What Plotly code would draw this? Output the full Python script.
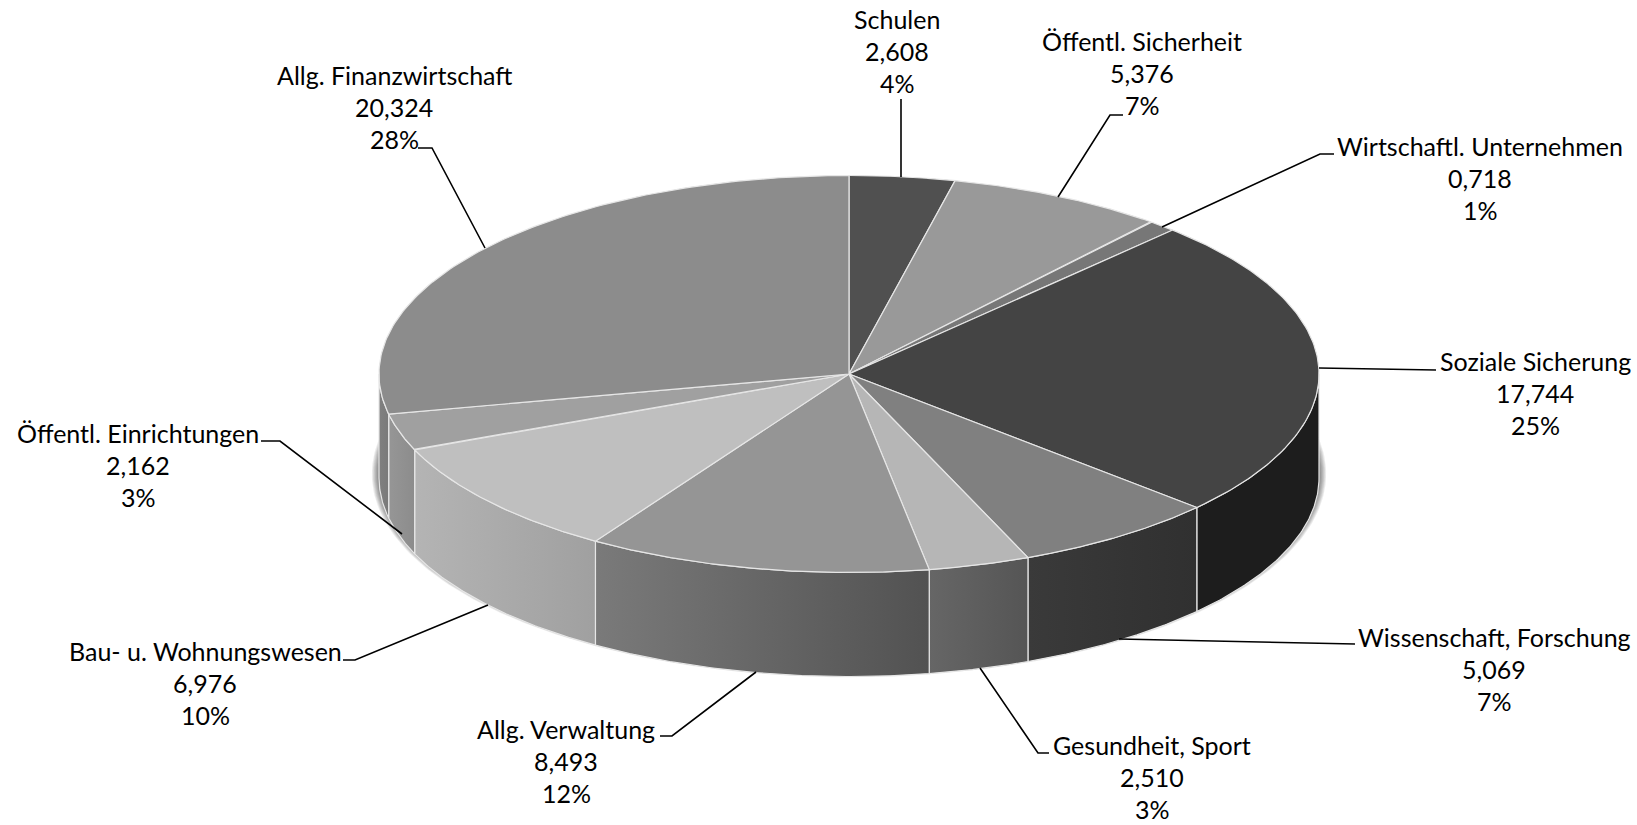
import numpy as np
import plotly.graph_objects as go

# ---- data (Mrd., clockwise from 12 o'clock) ----
categories = ["Schulen", "Öffentl. Sicherheit", "Wirtschaftl. Unternehmen", "Soziale Sicherung",
              "Wissenschaft, Forschung", "Gesundheit, Sport", "Allg. Verwaltung",
              "Bau- u. Wohnungswesen", "Öffentl. Einrichtungen", "Allg. Finanzwirtschaft"]
values = [2.608, 5.376, 0.718, 17.744, 5.069, 2.510, 8.493, 6.976, 2.162, 20.324]

# ---- styles ----
top_colors = ["#505050", "#999999", "#777777", "#444444", "#808080",
              "#b6b6b6", "#959595", "#bfbfbf", "#a0a0a0", "#8c8c8c"]
side_left = ["#505050", "#999999", "#777777", "#1d1d1d", "#3a3a3a",
             "#666666", "#7a7a7a", "#b4b4b4", "#969696", "#808080"]
side_right = ["#505050", "#999999", "#777777", "#1d1d1d", "#303030",
              "#555555", "#525252", "#a0a0a0", "#8c8c8c", "#7a7a7a"]
EDGE = "#e6e6e6"
CX, CY, RX, RY, DEPTH = 849, 374, 470, 198.5, 104
FONT = dict(family="Lato, Carlito, sans-serif", size=25, color="#000000")
LINE_H = 31.8

label_pos = [(897, 19), (1142, 41), (1480, 146), (1535, 361), (1494, 637),
             (1152, 745), (566, 729), (205, 651), (138, 433), (394, 75)]
leaders = [
    [(901, 99), (901, 177)],
    [(1123, 115), (1110, 115), (1058, 197)],
    [(1334, 154), (1320, 154), (1162, 227)],
    [(1319, 368), (1436, 370)],
    [(1119, 639), (1355, 644)],
    [(980, 668), (1038, 753), (1049, 753)],
    [(756, 672), (672, 736), (660, 736)],
    [(488, 605), (355, 660), (343, 660)],
    [(402, 534), (280, 441), (261, 441)],
    [(485, 248), (432, 148), (418, 148)],
]


def rim(theta, dy=0.0):
    t = np.radians(theta)
    return CX + RX * np.sin(t), CY - RY * np.cos(t) + dy


fig = go.Figure()

# soft shadow below the pie
tt = np.linspace(0, 360, 361)
for k in range(8, 0, -1):
    fig.add_trace(go.Scatter(
        x=CX + (RX + k * 0.9) * np.sin(np.radians(tt)),
        y=CY + DEPTH - 4 + (RY + k * 0.6) * np.cos(np.radians(tt)),
        mode="lines", line=dict(width=0), fill="toself",
        fillcolor="rgba(0,0,0,0.07)", hoverinfo="skip", showlegend=False))

total = sum(values)
edges = np.cumsum([0] + values) / total * 360

# outer walls: only the front half (90..270 degrees) is visible
for i in range(len(values)):
    a, b = max(edges[i], 90), min(edges[i + 1], 270)
    if b <= a:
        continue
    th = np.linspace(a, b, 80)
    x1, y1 = rim(th)
    x2, y2 = rim(th[::-1], DEPTH)
    fig.add_trace(go.Scatter(
        x=np.r_[x1, x2, x1[0]], y=np.r_[y1, y2, y1[0]],
        mode="lines", line=dict(color=EDGE, width=1.2), fill="toself",
        fillgradient=dict(type="horizontal",
                          colorscale=[[0, side_left[i]], [1, side_right[i]]]),
        hoverinfo="skip", showlegend=False))

# top face
for i in range(len(values)):
    th = np.linspace(edges[i], edges[i + 1], 120)
    x, y = rim(th)
    fig.add_trace(go.Scatter(
        x=np.r_[CX, x, CX], y=np.r_[CY, y, CY],
        mode="lines", line=dict(color=EDGE, width=1.2), fill="toself",
        fillcolor=top_colors[i], hoverinfo="skip", showlegend=False))

# leader lines
for pts in leaders:
    fig.add_trace(go.Scatter(
        x=[p[0] for p in pts], y=[p[1] for p in pts], mode="lines",
        line=dict(color="#000000", width=1.6), hoverinfo="skip", showlegend=False))

# labels
annotations = []
for cat, val, (lx, ly) in zip(categories, values, label_pos):
    lines = [cat, f"{val:.3f}".replace(".", ","), f"{round(val / total * 100)}%"]
    for k, txt in enumerate(lines):
        annotations.append(dict(x=lx, y=ly + k * LINE_H, text=txt, showarrow=False,
                                xanchor="center", yanchor="middle", font=FONT))

fig.update_layout(
    width=1637, height=825, margin=dict(l=0, r=0, t=0, b=0),
    paper_bgcolor="#ffffff", plot_bgcolor="#ffffff", showlegend=False,
    xaxis=dict(range=[0, 1637], visible=False, fixedrange=True),
    yaxis=dict(range=[825, 0], visible=False, fixedrange=True),
    annotations=annotations,
)
fig.write_html("out.html", config=dict(displayModeBar=False),
               post_script="document.body.style.margin='0';document.documentElement.style.overflow='hidden';")
